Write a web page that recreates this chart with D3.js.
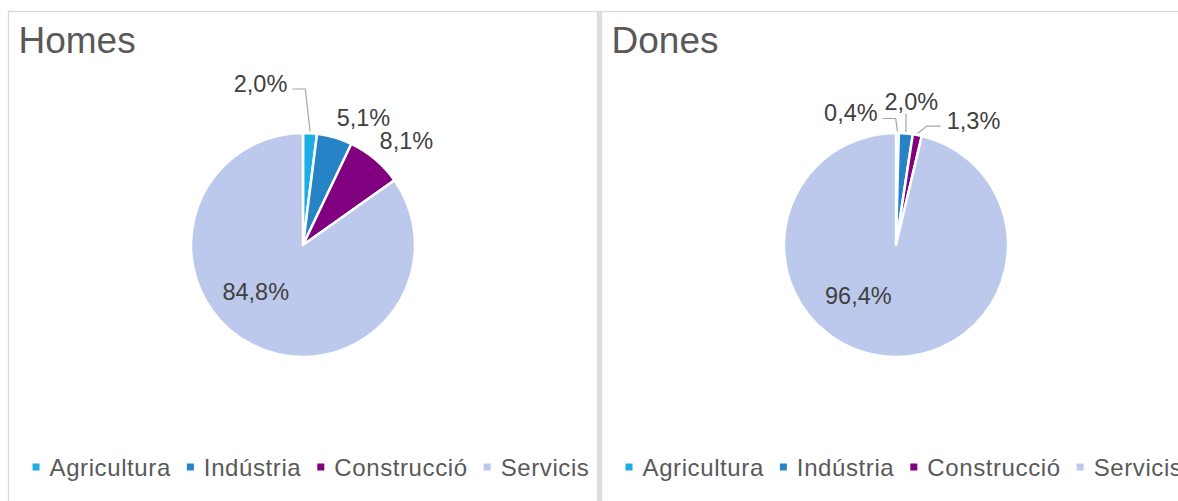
<!DOCTYPE html>
<html>
<head>
<meta charset="utf-8">
<script src="https://cdn.jsdelivr.net/npm/d3@7"></script>
<style>
  html, body { margin: 0; padding: 0; background: #fff; }
  svg { display: block; }
  text { font-family: "Liberation Sans", Arial, sans-serif; }
</style>
</head>
<body>
<svg id="chart" width="1178" height="501"></svg>
<script>
// ---- data ----
const panelTitles = ["Homes", "Dones"];
const categories = ["Agricultura", "Indústria", "Construcció", "Servicis"];
const homesValues = [2.0, 5.1, 8.1, 84.8];
const donesValues = [0.4, 2.0, 1.3, 96.4];

// ---- styles / layout (kept separate from data) ----
const colors = ["#1CADE4", "#2683C6", "#800080", "#BDC9EC"];
const panelLayout = [
  { x: 8.5, title: 0 },
  { x: 601.5, title: 1 }
];
const panelWidth = 589;
const pieOffsetX = 294.5, pieCY = 245, radius = 112;
// label offsets relative to slice's outer edge point, and leader attachment side
const labelPlacement = [
  [[-49.5, -49.7, "right"], [28.9, -20.1, null], [31.2, -18.4, null], [4.2, -53.3, null]],
  [[-46.5, -20, "right"], [5.5, -31.9, "bottom"], [56.2, -15, "left"], [-24.7, -61.2, null]]
];
const seriesValues = [homesValues, donesValues];

const svg = d3.select("#chart");
const fmt = v => d3.format(".1f")(v).replace(".", ",") + "%";

// panel frames
panelLayout.forEach(p => {
  svg.append("rect")
    .attr("x", p.x).attr("y", 11.5)
    .attr("width", panelWidth).attr("height", 600)
    .attr("fill", "#fff").attr("stroke", "#D9D9D9").attr("stroke-width", 1.3);
});
svg.append("rect").attr("x", 597.5).attr("y", 11).attr("width", 4).attr("height", 500).attr("fill", "#DEDEDE");

const pie = d3.pie().sort(null).value(d => d).startAngle(0).endAngle(2 * Math.PI);
const arc = d3.arc().innerRadius(0).outerRadius(radius);

panelLayout.forEach((p, pi) => {
  const g = svg.append("g");
  const cx = p.x + pieOffsetX;

  // title
  g.append("text")
    .attr("x", p.x + 10).attr("y", 53.3)
    .attr("font-size", 37).attr("fill", "#595959")
    .text(panelTitles[p.title]);

  const arcs = pie(seriesValues[pi]);
  const pg = g.append("g").attr("transform", `translate(${cx},${pieCY})`);
  pg.selectAll("path").data(arcs).join("path")
    .attr("d", arc)
    .attr("fill", (d, i) => colors[i])
    .attr("stroke", "#fff").attr("stroke-width", 2.5).attr("stroke-linejoin", "round");

  // labels
  arcs.forEach((d, i) => {
    const mid = (d.startAngle + d.endAngle) / 2;
    const ex = cx + radius * Math.sin(mid), ey = pieCY - radius * Math.cos(mid);
    const [ox, oy, side] = labelPlacement[pi][i];
    const lx = ex + ox, ly = ey + oy;
    const t = g.append("text")
      .attr("x", lx).attr("y", ly).attr("dy", "0.36em")
      .attr("text-anchor", "middle")
      .attr("font-size", 23.5).attr("fill", "#404040")
      .text(fmt(d.data));
    if (side) {
      const w = t.node().getComputedTextLength();
      const sx = cx + (radius + 1.5) * Math.sin(mid), sy = pieCY - (radius + 1.5) * Math.cos(mid);
      let pts;
      if (side === "right") {
        const E = [lx + w / 2 + 5, ly + 5.5];
        pts = [E, [E[0] + 13, E[1]], [sx, sy]];
      } else if (side === "left") {
        const E = [lx - w / 2 - 6, ly + 6];
        pts = [E, [E[0] - 14, E[1]], [sx, sy]];
      } else {
        pts = [[sx, ly + 12], [sx, sy]];
      }
      g.insert("path", "text")
        .attr("d", d3.line()(pts))
        .attr("fill", "none").attr("stroke", "#A6A6A6").attr("stroke-width", 1.2);
    }
  });

  // legend
  const lg = g.append("g");
  let x = 0;
  const items = [];
  categories.forEach((c, i) => {
    const it = lg.append("g");
    it.append("rect").attr("x", x).attr("y", 463.5).attr("width", 7).attr("height", 7).attr("fill", colors[i]);
    const tt = it.append("text").attr("x", x + 17).attr("y", 476)
      .attr("font-size", 24).attr("fill", "#595959").attr("letter-spacing", 0.6)
      .text(c);
    x += 17 + tt.node().getComputedTextLength() + 16;
  });
  const total = x - 16;
  lg.attr("transform", `translate(${p.x + panelWidth / 2 + 8 - total / 2},0)`);
});
</script>
</body>
</html>
